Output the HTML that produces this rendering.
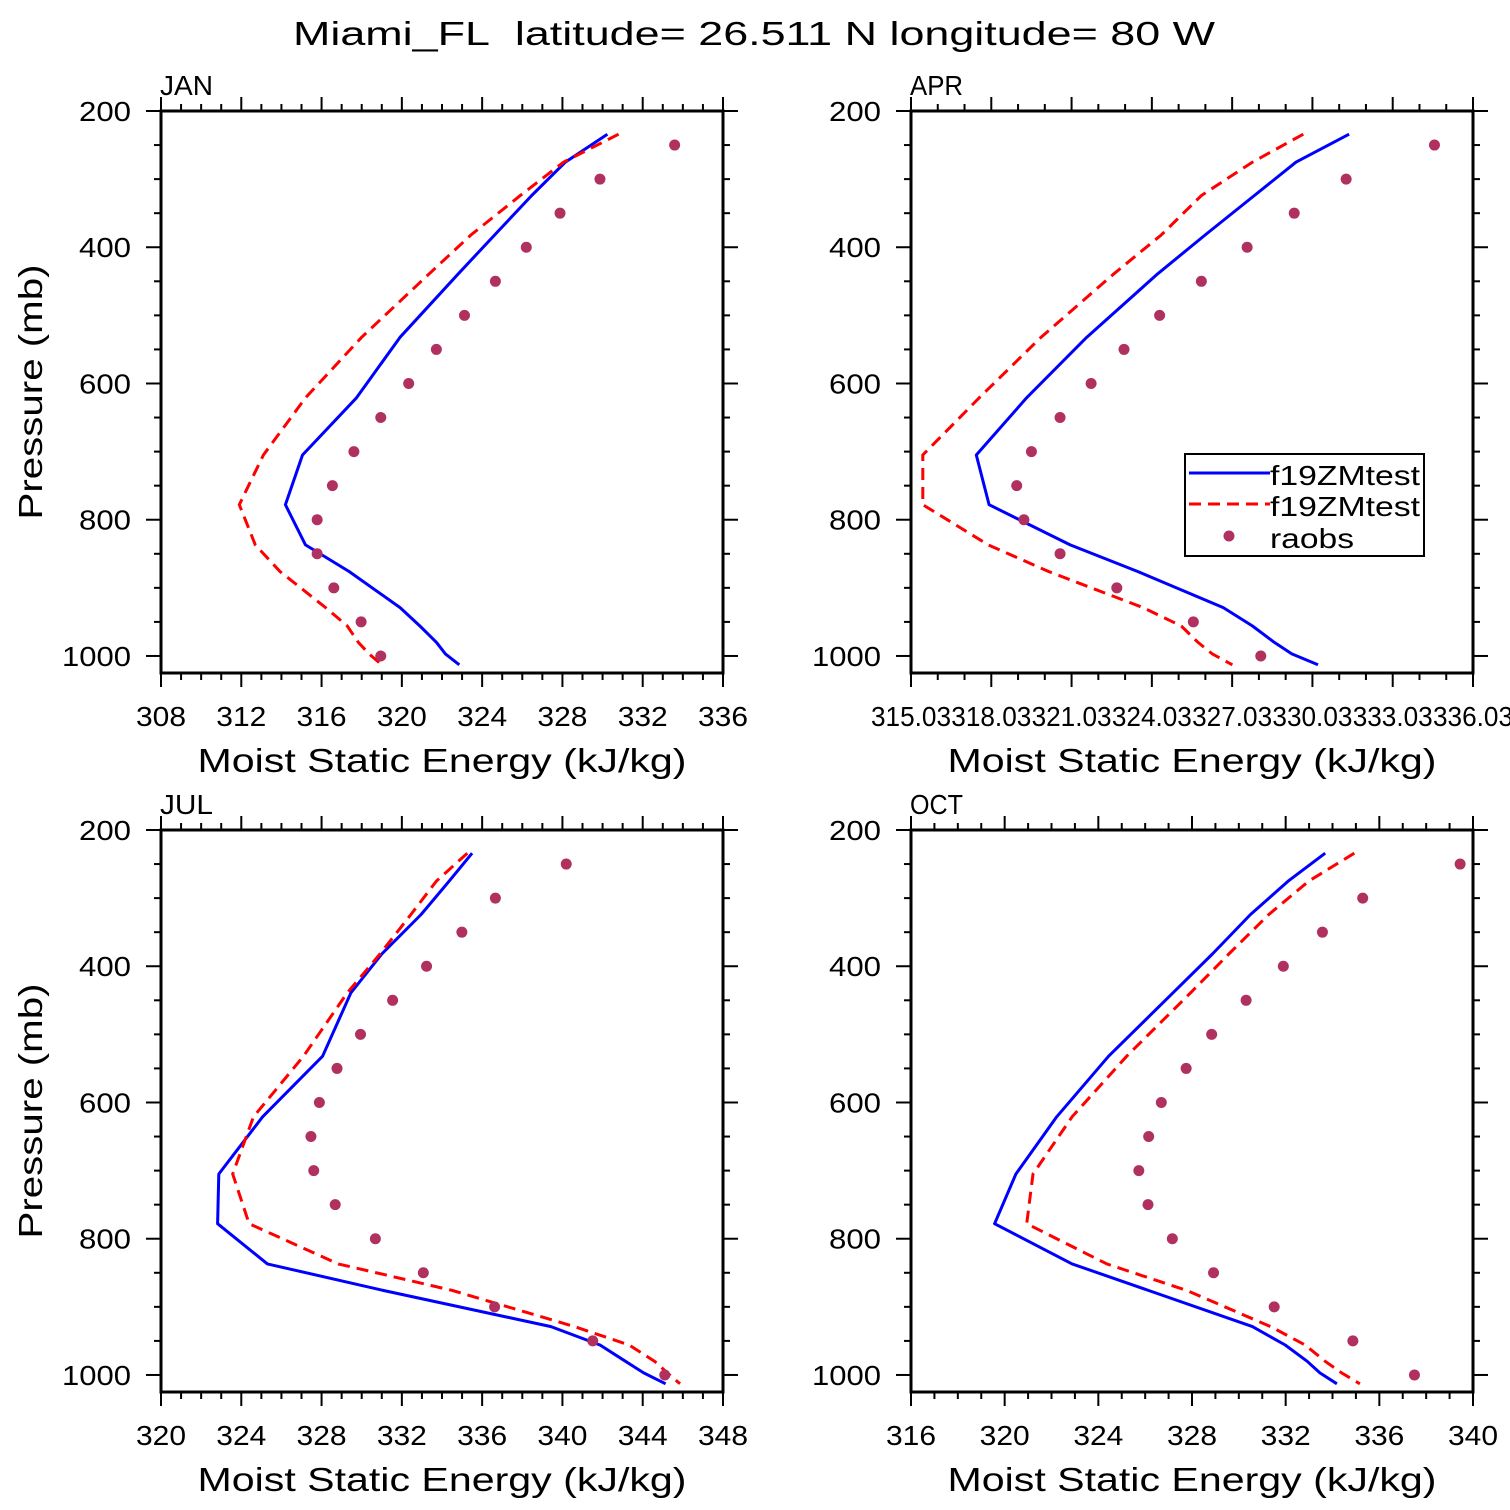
<!DOCTYPE html>
<html><head><meta charset="utf-8"><style>
html,body{margin:0;padding:0;background:#fff;}
svg{display:block;font-family:"Liberation Sans",sans-serif;}
</style></head><body>
<svg id="chart" width="1510" height="1510" viewBox="0 0 1510 1510" xmlns="http://www.w3.org/2000/svg">
<text x="754" y="45" font-size="33" text-anchor="middle" textLength="922" lengthAdjust="spacingAndGlyphs">Miami_FL&#160; latitude= 26.511 N longitude= 80 W</text>
</svg>
<script>
// Shared pressure levels
const modelLevels = [234,275,324,382,439,532,621,705,778,837,876,929,956,980,997,1013];
const obsLevels = [250,300,350,400,450,500,550,600,650,700,750,800,850,900,950,1000];
const yTicks = [200,400,600,800,1000];

// JAN
const janBlue = [330.24,328.15,326.47,324.62,322.81,319.91,317.74,315.05,314.2,315.2,317.37,319.91,320.9,321.72,322.17,322.86];
const janRed = [330.8,328.06,325.9,323.44,321.36,318.0,315.2,313.1,311.9,312.7,313.93,316.2,317.28,317.83,318.37,319.0];
const janObs = [333.59,329.87,327.88,326.2,324.66,323.12,321.72,320.34,318.95,317.61,316.54,315.78,315.78,316.61,317.97,318.95];
const janTicks = ["308","312","316","320","324","328","332","336"];
// APR
const aprBlue = [331.40,329.42,327.86,326.02,324.25,321.60,319.35,317.47,317.95,320.98,323.5,326.7,327.79,328.6,329.26,330.24];
const aprRed = [329.69,327.79,325.88,324.38,322.61,319.89,317.58,315.47,315.47,317.92,320.17,323.70,325.13,325.75,326.29,327.04];
const aprObs = [334.59,331.29,329.35,327.59,325.88,324.32,322.99,321.76,320.6,319.53,318.98,319.25,320.6,322.72,325.58,328.10];
const aprTicks = ["315.03","318.03","321.03","324.03","327.03","330.03","333.03","336.03"];
// JUL
const julBlue = [335.50,334.36,332.96,331.0,329.46,328.05,325.06,322.88,322.82,325.30,331.09,339.43,341.87,343.14,344.05,345.14];
const julRed = [335.26,333.72,332.45,330.91,329.28,327.10,324.61,323.57,324.39,328.83,334.53,340.60,343.32,344.59,345.23,345.86];
const julObs = [340.19,336.66,334.99,333.23,331.54,329.94,328.77,327.89,327.47,327.61,328.68,330.68,333.07,336.62,341.51,345.1];
const julTicks = ["320","324","328","332","336","340","344","348"];
// OCT
const octBlue = [333.69,332.11,330.50,328.87,327.19,324.44,322.22,320.48,319.57,322.88,326.15,330.58,331.98,332.92,333.46,334.19];
const octRed = [334.93,332.99,331.28,329.57,327.94,325.21,322.88,321.21,320.94,324.36,327.78,331.36,332.83,333.69,334.39,335.17];
const octObs = [339.45,335.29,333.57,331.90,330.31,328.84,327.75,326.69,326.15,325.73,326.12,327.16,328.92,331.51,334.87,337.50];
const octTicks = ["316","320","324","328","332","336","340"];

const NS="http://www.w3.org/2000/svg";
const svg=document.getElementById('chart');
function mk(tag,attrs,parent){const e=document.createElementNS(NS,tag);for(const k in attrs)e.setAttribute(k,attrs[k]);(parent||svg).appendChild(e);return e;}

function panel(cfg){
  const g=mk('g',{});
  
  
  const L=cfg.left,R=cfg.left+562,T=cfg.top,B=cfg.top+562;
  const xs=v=>L+(v-cfg.xmin)/(cfg.xmax-cfg.xmin)*(R-L);
  const ys=p=>T+(p-200)/(1025-200)*(B-T);
  const cid='clip'+cfg.name;
  const cp=mk('clipPath',{id:cid},g); mk('rect',{x:L,y:T,width:R-L,height:B-T},cp);
  const tg=mk('g',{stroke:'#000','stroke-width':2},g);
  
  
  const nMinor=Math.round((cfg.xmax-cfg.xmin)/cfg.minor);
  for(let i=0;i<=nMinor;i++){
    const v=cfg.xmin+i*cfg.minor, x=xs(v);
    const major=(i%cfg.per===0); const len=major?14:7;
    mk('line',{x1:x,y1:B,x2:x,y2:B+len},tg);
    mk('line',{x1:x,y1:T,x2:x,y2:T-len},tg);
  }
  for(let p=200;p<=1000;p+=50){
    const y=ys(p), major=(p%200===0), len=major?15:7;
    mk('line',{x1:L,y1:y,x2:L-len,y2:y},tg);
    mk('line',{x1:R,y1:y,x2:R+len,y2:y},tg);
  }
  const fr=mk('rect',{x:L,y:T,width:R-L,height:B-T,fill:'none',stroke:'#000','stroke-width':3},g);
  
  
  cfg.ticks.forEach((t,i)=>{
    const v=cfg.xmin+i*cfg.minor*cfg.per;
    const tx=mk('text',{x:xs(v),y:B+53,'font-size':28,'text-anchor':'middle',textLength:t.length>3?80:50,lengthAdjust:'spacingAndGlyphs'},g);
    tx.textContent=t;
    
    
  });
  yTicks.forEach(p=>{
    const t=String(p);
    const tx=mk('text',{x:L-30,y:ys(p)+10,'font-size':28,'text-anchor':'end',textLength:t.length>3?69:52,lengthAdjust:'spacingAndGlyphs'},g);
    tx.textContent=t;
    
    
  });
  const xt=mk('text',{x:(L+R)/2,y:B+99,'font-size':33,'text-anchor':'middle',textLength:489,lengthAdjust:'spacingAndGlyphs'},g);
  xt.textContent='Moist Static Energy (kJ/kg)';
  
  
  if(cfg.ytitle){
    const yt=mk('text',{x:0,y:0,'font-size':33,'text-anchor':'middle',textLength:255,lengthAdjust:'spacingAndGlyphs',transform:`translate(${L-119},${T+281}) rotate(-90)`},g);
    yt.textContent='Pressure (mb)';
    
    
  }
  const pl=mk('text',{x:L-1,y:T-16,'font-size':28,textLength:53,lengthAdjust:'spacingAndGlyphs'},g);
  pl.textContent=cfg.name;
  
  
  const dg=mk('g',{'clip-path':`url(#${cid})`},g);
  const pts=arr=>arr.map((v,i)=>xs(v).toFixed(1)+','+ys(modelLevels[i]).toFixed(1)).join(' ');
  const bl=mk('polyline',{points:pts(cfg.blue),fill:'none',stroke:'#0000ff','stroke-width':3,'stroke-linejoin':'round'},dg);
  
  
  const rl=mk('polyline',{points:pts(cfg.red),fill:'none',stroke:'#ff0000','stroke-width':3,'stroke-dasharray':'12 7'},dg);
  
  
  cfg.obs.forEach((v,i)=>{
    const c=mk('circle',{cx:xs(v),cy:ys(obsLevels[i]),r:5.5,fill:'#b03060'},dg);
    
    
  });
}

panel({name:'JAN',left:161,top:111,xmin:308,xmax:336,minor:1,per:4,ticks:janTicks,blue:janBlue,red:janRed,obs:janObs,ytitle:true});
panel({name:'APR',left:911,top:111,xmin:315.03,xmax:336.03,minor:1,per:3,ticks:aprTicks,blue:aprBlue,red:aprRed,obs:aprObs,ytitle:false});
panel({name:'JUL',left:161,top:830,xmin:320,xmax:348,minor:1,per:4,ticks:julTicks,blue:julBlue,red:julRed,obs:julObs,ytitle:true});
panel({name:'OCT',left:911,top:830,xmin:316,xmax:340,minor:1,per:4,ticks:octTicks,blue:octBlue,red:octRed,obs:octObs,ytitle:false});

const lg=mk('g',{});


mk('rect',{x:1185,y:454,width:239,height:102,fill:'#fff',stroke:'#000','stroke-width':2},lg);
mk('line',{x1:1189,y1:473,x2:1270,y2:473,stroke:'#0000ff','stroke-width':3},lg);
mk('line',{x1:1189,y1:504,x2:1270,y2:504,stroke:'#ff0000','stroke-width':3,'stroke-dasharray':'12 7'},lg);
mk('circle',{cx:1229,cy:536,r:5.5,fill:'#b03060'},lg);
[['f19ZMtest',485,150],['f19ZMtest',516,150],['raobs',548,84]].forEach(([t,y,w])=>{
  const tx=mk('text',{x:1270,y:y,'font-size':28,textLength:w,lengthAdjust:'spacingAndGlyphs'},lg);
  tx.textContent=t;
  
  
});
</script>
</body></html>
